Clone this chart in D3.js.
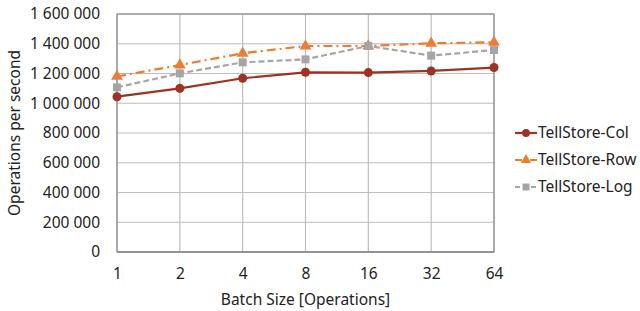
<!DOCTYPE html>
<html>
<head>
<meta charset="utf-8">
<script src="https://cdn.jsdelivr.net/npm/d3@7"></script>
<style>
  html, body { margin: 0; padding: 0; background: #fff; overflow: hidden; }
  svg { display: block; }
  svg text { font-family: "Noto Sans", "Open Sans", sans-serif; fill: #222; }
  .axis path, .axis line { display: none; }
</style>
</head>
<body>
<div id="chart"></div>
<script>
// batch sizes on the x axis
const batchSizes = [1, 2, 4, 8, 16, 32, 64];
const yTicks = [0, 200000, 400000, 600000, 800000, 1000000, 1200000, 1400000, 1600000];

// operations per second
const colValues = [1044000, 1100000, 1168000, 1208000, 1206000, 1217000, 1240000];
const rowValues = [1180000, 1257000, 1336000, 1385000, 1385000, 1403000, 1410000];
const logValues = [1107000, 1201000, 1275000, 1295000, 1385000, 1320000, 1358000];

const seriesNames = ['TellStore-Col', 'TellStore-Row', 'TellStore-Log'];

const width = 640, height = 311;
const margin = {top: 14, right: 146, bottom: 59, left: 117};
const innerWidth = width - margin.left - margin.right,
      innerHeight = height - margin.top - margin.bottom;
const fontSize = '15.5px';

const series = [
  {name: seriesNames[0], values: colValues, color: '#9e3223', dash: null, marker: 'circle'},
  {name: seriesNames[1], values: rowValues, color: '#ed7d31', dash: '9,4,2,4', marker: 'triangle'},
  {name: seriesNames[2], values: logValues, color: '#a5a5a5', dash: '6,3', marker: 'square'}
];

const svg = d3.select('#chart').append('svg')
  .attr('width', width)
  .attr('height', height);

const g = svg.append('g')
  .attr('transform', `translate(${margin.left},${margin.top})`);

// ----------------------------------
// SCALES
// ----------------------------------
const xScale = d3.scaleLog().base(2)
  .domain([1, 64])
  .range([0, innerWidth]);

const yScale = d3.scaleLinear()
  .domain([0, 1600000])
  .range([innerHeight, 0]);

const fmt = d3.formatLocale({decimal: '.', thousands: ' ', grouping: [3], currency: ['', '']}).format(',');

// ----------------------------------
// GRID
// ----------------------------------
g.append('g').selectAll('line')
  .data(yTicks)
  .enter().append('line')
  .attr('x1', 0).attr('x2', innerWidth)
  .attr('y1', d => yScale(d)).attr('y2', d => yScale(d))
  .attr('stroke', '#bdbdbd').attr('stroke-width', 1.2);

g.append('g').selectAll('line')
  .data(batchSizes)
  .enter().append('line')
  .attr('x1', d => xScale(d)).attr('x2', d => xScale(d))
  .attr('y1', 0).attr('y2', innerHeight)
  .attr('stroke', '#bdbdbd').attr('stroke-width', 1.2);

g.append('rect')
  .attr('width', innerWidth).attr('height', innerHeight)
  .attr('fill', 'none').attr('stroke', '#8c8c8c').attr('stroke-width', 1.2);

g.append('line')
  .attr('x1', 0).attr('x2', innerWidth)
  .attr('y1', innerHeight).attr('y2', innerHeight)
  .attr('stroke', '#8c8c8c').attr('stroke-width', 1.5);

// ----------------------------------
// AXES
// ----------------------------------
const yAxis = g.append('g').attr('class', 'axis')
  .call(d3.axisLeft(yScale).tickValues(yTicks).tickFormat(fmt).tickSize(0).tickPadding(17));
yAxis.attr('font-size', fontSize).attr('font-family', null);

const xAxis = g.append('g').attr('class', 'axis')
  .attr('transform', `translate(0,${innerHeight})`)
  .call(d3.axisBottom(xScale).tickValues(batchSizes).tickFormat(d3.format('d')).tickSize(0).tickPadding(16));
xAxis.attr('font-size', fontSize).attr('font-family', null);

svg.append('text')
  .attr('x', margin.left + innerWidth / 2)
  .attr('y', 305)
  .attr('text-anchor', 'middle')
  .attr('font-size', fontSize)
  .text('Batch Size [Operations]');

svg.append('text')
  .attr('transform', `translate(20,${margin.top + innerHeight / 2}) rotate(-90)`)
  .attr('text-anchor', 'middle')
  .attr('font-size', fontSize)
  .text('Operations per second');

// ----------------------------------
// LINES + MARKERS
// ----------------------------------
const line = d3.line()
  .x((d, i) => xScale(batchSizes[i]))
  .y(d => yScale(d));

const symbolFor = {circle: d3.symbolCircle, triangle: d3.symbolTriangle, square: d3.symbolSquare};
const sizeFor = {circle: 64, triangle: 60, square: 64};

series.forEach(s => {
  g.append('path')
    .datum(s.values)
    .attr('fill', 'none')
    .attr('stroke', s.color)
    .attr('stroke-width', 2.2)
    .attr('stroke-dasharray', s.dash)
    .attr('d', line);

  g.append('g').selectAll('path')
    .data(s.values)
    .enter().append('path')
    .attr('transform', (d, i) => `translate(${xScale(batchSizes[i])},${yScale(d)})`)
    .attr('d', d3.symbol().type(symbolFor[s.marker]).size(sizeFor[s.marker]))
    .attr('fill', s.color);
});

// ----------------------------------
// LEGEND
// ----------------------------------
const legend = svg.append('g').attr('transform', 'translate(515,133)');
series.forEach((s, i) => {
  const row = legend.append('g').attr('transform', `translate(0,${i * 27})`);
  row.append('line')
    .attr('x1', 0).attr('x2', 22)
    .attr('stroke', s.color).attr('stroke-width', 2.2)
    .attr('stroke-dasharray', s.dash ? (s.marker === 'triangle' ? '7,3,2,3' : '5,3') : null);
  row.append('path')
    .attr('transform', 'translate(11,0)')
    .attr('d', d3.symbol().type(symbolFor[s.marker]).size(sizeFor[s.marker] * 0.75))
    .attr('fill', s.color);
  row.append('text')
    .attr('x', 23).attr('y', 0)
    .attr('dy', '0.35em')
    .attr('font-size', fontSize)
    .text(s.name);
});
</script>
</body>
</html>
